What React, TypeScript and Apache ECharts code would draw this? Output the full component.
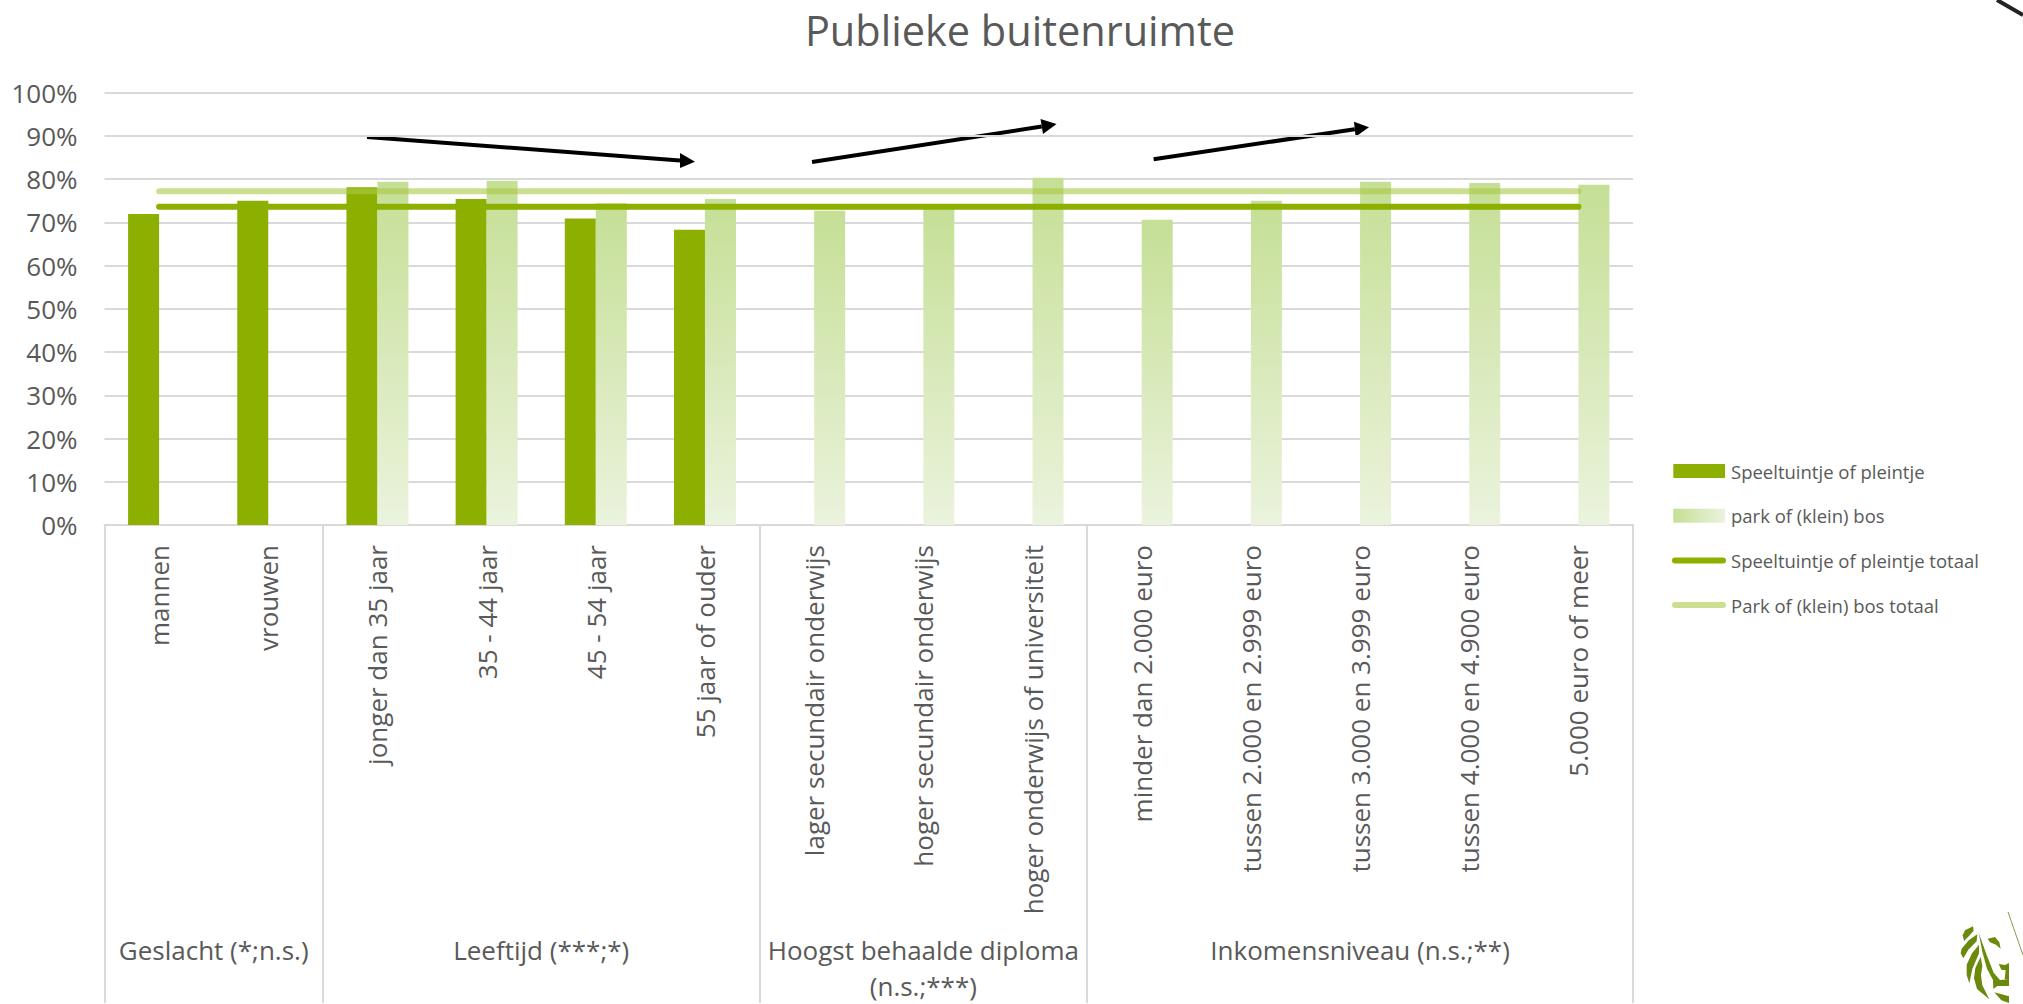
import React, { useEffect, useRef } from "react";
import * as echarts from "echarts";

const FONT = "'Open Sans', sans-serif";
const TEXT = "#595959";
const GRID = "#D9D9D9";
const DARK = "#8CAF00";

const titleText = "Publieke buitenruimte";
const categories = [
  "mannen", "vrouwen",
  "jonger dan 35 jaar", "35 - 44 jaar", "45 - 54 jaar", "55 jaar of ouder",
  "lager secundair onderwijs", "hoger secundair onderwijs", "hoger onderwijs of universiteit",
  "minder dan 2.000 euro", "tussen 2.000 en 2.999 euro", "tussen 3.000 en 3.999 euro", "tussen 4.000 en 4.900 euro", "5.000 euro of meer",
];
const groupLabels = ["Geslacht (*;n.s.)", "Leeftijd (***;*)", "Hoogst behaalde diploma\n(n.s.;***)", "Inkomensniveau (n.s.;**)"];
const groupSizes = [2, 4, 3, 5];
const speeltuin = [71.9, 75.0, 78.1, 75.4, 70.9, 68.3, null, null, null, null, null, null, null, null];
const park = [null, null, 79.4, 79.6, 74.4, 75.4, 72.7, 73.8, 80.3, 70.6, 75.0, 79.4, 79.1, 78.7];
const speeltuinTotaal = [73.6, 73.6, 73.6, 73.6, 73.6, 73.6, 73.6, 73.6, 73.6, 73.6, 73.6, 73.6, 73.6, 73.6];
const parkTotaal = [77.2, 77.2, 77.2, 77.2, 77.2, 77.2, 77.2, 77.2, 77.2, 77.2, 77.2, 77.2, 77.2, 77.2];
const seriesNames = ["Speeltuintje of pleintje", "park of (klein) bos", "Speeltuintje of pleintje totaal", "Park of (klein) bos totaal"];

const groupEdges = groupSizes.reduce((acc: number[], n) => [...acc, acc[acc.length - 1] + n], [0]);
const groupCenters = groupSizes.map((n, i) => groupEdges[i] + n / 2);

const CORNERS = "M0 0L0 0M54 14L54 14";
const BAR_ICON = `path://${CORNERS}M1.3 0H53V14H1.3Z`;
const LINE_ICON = `path://${CORNERS}M3 4H51A3 3 0 0 1 51 10H3A3 3 0 0 1 3 4Z`;

function arrow(x1: number, y1: number, tipX: number, tipY: number, ax: number, ay: number, bx: number, by: number) {
  const mx = (ax + bx) / 2;
  const my = (ay + by) / 2;
  return [
    { type: "line", silent: true, shape: { x1, y1, x2: mx, y2: my }, style: { stroke: "#000", lineWidth: 4 } },
    { type: "polygon", silent: true, shape: { points: [[tipX, tipY], [ax, ay], [bx, by]] }, style: { fill: "#000" } },
  ];
}

const LOGO = "#6A8A0C";
const logoShapes: number[][][] = [
  [[219, 139], [195, 151], [188, 166], [192, 183], [207, 168], [221, 152]],
  [[232, 163], [207, 180], [185, 206], [182, 220], [190, 235], [205, 209], [230, 184]],
  [[237, 194], [216, 220], [200, 254], [200, 285], [208, 310], [217, 267], [237, 220]],
  [[242, 230], [226, 264], [222, 295], [231, 327], [268, 358], [247, 316], [243, 285], [247, 258]],
  [[236, 158], [247, 215], [261, 266], [279, 300], [280, 327], [292, 318], [327, 318], [327, 298], [300, 300], [281, 278], [260, 225]],
  [[263, 176], [285, 171], [298, 187], [302, 206], [288, 194], [270, 187]],
  [[296, 252], [315, 255], [327, 249], [327, 300], [314, 298], [317, 271], [304, 269]],
  [[283, 337], [327, 349], [327, 369], [304, 361]],
];
const logo = logoShapes.map((pts) => ({
  type: "polygon",
  silent: true,
  shape: { points: pts.map(([x, y]) => [1900 + x / 3, 880 + y / 3]) },
  style: { fill: LOGO },
}));

export default function App() {
  const ref = useRef<HTMLDivElement>(null);
  useEffect(() => {
    const chart = echarts.init(ref.current!, undefined, { renderer: "svg" });
    const gradientV = new echarts.graphic.LinearGradient(0, 0, 0, 1, [
      { offset: 0, color: "#C5DF95" },
      { offset: 1, color: "#EBF3DD" },
    ]);
    const gradientH = new echarts.graphic.LinearGradient(0, 0, 1, 0, [
      { offset: 0, color: "#C5DF95" },
      { offset: 1, color: "#EBF3DD" },
    ]);
    chart.setOption({
      animation: false,
      backgroundColor: "#fff",
      title: {
        text: titleText,
        left: 1015,
        top: 4,
        textAlign: "center",
        textStyle: { fontFamily: FONT, fontSize: 41.5, fontWeight: "normal", color: TEXT },
      },
      grid: { left: 104.5, top: 92.6, width: 1528.5, height: 434.8 },
      legend: {
        orient: "vertical",
        left: 1667,
        top: 456.5,
        itemWidth: 54,
        itemHeight: 14,
        itemGap: 25.7,
        textStyle: { fontFamily: FONT, fontSize: 18.5, color: TEXT },
        data: [
          { name: seriesNames[0], icon: BAR_ICON },
          { name: seriesNames[1], icon: BAR_ICON, itemStyle: { color: gradientH } },
          { name: seriesNames[2], icon: LINE_ICON },
          { name: seriesNames[3], icon: LINE_ICON },
        ],
      },
      xAxis: [
        {
          type: "category",
          data: categories,
          axisLine: { show: true, lineStyle: { color: GRID, width: 2 } },
          axisTick: { show: false },
          axisLabel: { interval: 0, rotate: 90, margin: 20, fontFamily: FONT, fontSize: 26, color: TEXT },
        },
        {
          type: "value",
          position: "bottom",
          min: 0,
          max: 14,
          axisLine: { show: false },
          splitLine: { show: false },
          axisTick: { show: true, length: 478, customValues: groupEdges, lineStyle: { color: GRID, width: 2 } },
          axisLabel: {
            customValues: groupCenters,
            margin: 407,
            fontFamily: FONT,
            fontSize: 26,
            lineHeight: 36,
            color: TEXT,
            verticalAlign: "top",
            formatter: (v: number) => groupLabels[groupCenters.indexOf(v)] ?? "",
          },
        },
      ],
      yAxis: {
        type: "value",
        min: 0,
        max: 100,
        interval: 10,
        axisLine: { show: false },
        axisTick: { show: false },
        splitLine: { lineStyle: { color: GRID, width: 2 } },
        axisLabel: { formatter: "{value}%", margin: 27, fontFamily: FONT, fontSize: 26, color: TEXT },
      },
      series: [
        { name: seriesNames[0], type: "bar", data: speeltuin, barWidth: 31, barGap: 0, itemStyle: { color: DARK } },
        { name: seriesNames[1], type: "bar", data: park, barWidth: 31, barGap: 0, itemStyle: { color: gradientV } },
        {
          name: seriesNames[2], type: "line", data: speeltuinTotaal, showSymbol: false, symbol: "none", z: 4,
          itemStyle: { color: DARK },
          lineStyle: { color: DARK, width: 6, cap: "round" },
        },
        {
          name: seriesNames[3], type: "line", data: parkTotaal, showSymbol: false, symbol: "none", z: 5,
          itemStyle: { color: "#CCDE90" },
          lineStyle: { color: "rgba(170,200,70,0.6)", width: 6, cap: "round" },
        },
      ],
      graphic: [
        ...arrow(367, 137, 695, 161.7, 680, 153, 680, 168),
        ...arrow(812, 162, 1056.5, 124, 1040.5, 119, 1043, 134),
        ...arrow(1153.6, 159.3, 1369, 127.3, 1354, 121.7, 1355.6, 136.7),
        { type: "line", silent: true, shape: { x1: 1997, y1: 0, x2: 2023, y2: 15 }, style: { stroke: "#222", lineWidth: 4 } },
        { type: "line", silent: true, shape: { x1: 2008, y1: 912, x2: 2023, y2: 955 }, style: { stroke: "#8A9A50", lineWidth: 1 } },
        ...logo,
      ],
    });
    return () => chart.dispose();
  }, []);
  return <div ref={ref} style={{ position: "absolute", left: 0, top: 0, width: 2023, height: 1004 }} />;
}
